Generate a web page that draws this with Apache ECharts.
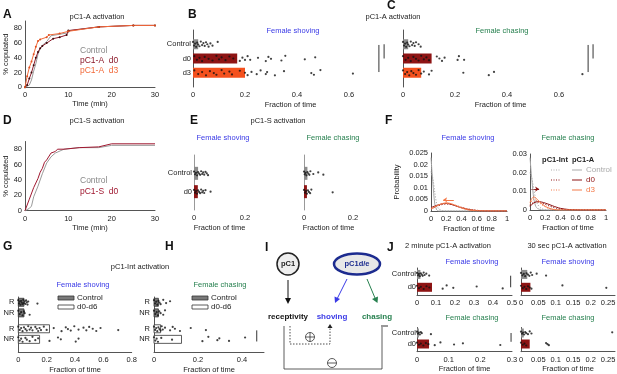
<!DOCTYPE html>
<html>
<head>
<meta charset="utf-8">
<script src="https://cdn.jsdelivr.net/npm/echarts@6/dist/echarts.min.js"></script>
<style>
  html, body { margin: 0; padding: 0; background: #fff; }
  #chart { width: 617px; height: 374px; }
</style>
</head>
<body>
<div id="chart"></div>
<script>
// ---- A: pC1-A activation, % copulated over time
const aCtrlTime = [0, 1, 1.5, 2, 2.5, 3, 3.5, 4, 5, 6, 8, 10, 10.5, 17, 25, 30];
const aCtrlPct  = [0, 3, 10, 22, 32, 45, 52, 57, 62, 70, 72, 74, 77, 82, 84, 84];
const aD0Time = [0, 0.5, 1, 1.5, 2, 2.5, 3, 3.5, 4, 5, 6.5, 8, 9.6, 10, 17, 25, 30];
const aD0Pct  = [0, 3, 12, 20, 30, 40, 48, 53, 56, 60, 66, 68, 71, 77, 82, 84, 84];
const aD3Time = [0, 0.5, 1, 1.5, 2, 2.5, 3, 3.5, 5, 5.5, 8, 10, 17, 25, 30];
const aD3Pct  = [0, 15, 27, 35, 45, 55, 63, 65, 68, 71, 73, 76, 82, 84, 84];

// ---- D: pC1-S activation
const dCtrlTime = [0, 1, 1.5, 2, 3, 4, 5, 6, 7, 9, 12.5, 17, 20, 30];
const dCtrlPct  = [0, 3, 6, 18, 32, 48, 62, 70, 75, 80, 82, 82, 85, 85];
const dD0Time = [0, 1, 2, 3, 3.5, 4, 4.5, 5, 6, 7, 7.5, 9, 12.5, 17, 20, 30];
const dD0Pct  = [0, 15, 30, 42, 50, 55, 63, 66, 75, 77, 80, 80, 82, 83, 87, 87];

// ---- B / C: pC1-A activation, fraction of time
const pc1aRows = ['Control', 'd0', 'd3'];
const bShoveMeans = [0.02, 0.17, 0.2];
const bShoveCtrl = [0, 0.004, 0.008, 0.012, 0.016, 0.02, 0.025, 0.03, 0.035, 0.04, 0.045, 0.05, 0.055, 0.06, 0.067, 0.075, 0.095];
const bShoveD0 = [0.005, 0.015, 0.025, 0.035, 0.045, 0.06, 0.075, 0.09, 0.1, 0.11, 0.125, 0.14, 0.155, 0.18, 0.19, 0.2, 0.21, 0.22, 0.25, 0.28, 0.29, 0.3, 0.34, 0.355, 0.43, 0.47];
const bShoveD3 = [0.005, 0.02, 0.035, 0.05, 0.065, 0.08, 0.09, 0.11, 0.12, 0.14, 0.15, 0.18, 0.2, 0.21, 0.225, 0.245, 0.26, 0.28, 0.285, 0.315, 0.35, 0.455, 0.465, 0.49, 0.615];
const cChaseMeans = [0.02, 0.11, 0.07];
const cChaseCtrl = [0, 0.004, 0.008, 0.012, 0.016, 0.02, 0.025, 0.03, 0.035, 0.04, 0.045, 0.05, 0.06, 0.068];
const cChaseD0 = [0, 0.01, 0.02, 0.03, 0.04, 0.05, 0.06, 0.07, 0.08, 0.09, 0.1, 0.13, 0.14, 0.15, 0.16, 0.21, 0.215, 0.235];
const cChaseD3 = [0, 0.008, 0.016, 0.024, 0.032, 0.04, 0.05, 0.06, 0.07, 0.08, 0.1, 0.11, 0.232, 0.33, 0.35, 0.69];

// ---- E: pC1-S activation
const pc1sRows = ['Control', 'd0'];
const eShoveMeans = [0.016, 0.015];
const eShoveCtrl = [0, 0.004, 0.008, 0.012, 0.016, 0.02, 0.024, 0.028, 0.032, 0.036, 0.04, 0.045, 0.05, 0.055];
const eShoveD0 = [0, 0.004, 0.008, 0.012, 0.016, 0.02, 0.024, 0.028, 0.032, 0.036, 0.04, 0.045, 0.065];
const eChaseMeans = [0.014, 0.012];
const eChaseCtrl = [0, 0.003, 0.006, 0.01, 0.014, 0.018, 0.022, 0.026, 0.038, 0.058, 0.079];
const eChaseD0 = [0, 0.004, 0.008, 0.012, 0.016, 0.02, 0.025, 0.03, 0.117];

// ---- F: probability distributions
const fFrac = [0, 0.025, 0.05, 0.075, 0.1, 0.15, 0.2, 0.25, 0.3, 0.35, 0.4, 0.5, 0.6, 0.7, 0.8, 1];
const fShoveCtrlA   = [0.023, 0.012, 0.003, 0.0005, 0, 0, 0, 0, 0, 0, 0, 0, 0, 0, 0, 0];
const fShoveCtrlInt = [0.017, 0.014, 0.008, 0.003, 0.001, 0.0002, 0, 0, 0, 0, 0, 0, 0, 0, 0, 0];
const fShoveD0A     = [0.0015, 0.0018, 0.0021, 0.0024, 0.0027, 0.0031, 0.0033, 0.003, 0.0025, 0.0019, 0.0014, 0.0006, 0.0002, 0, 0, 0];
const fShoveD0Int   = [0.001, 0.0013, 0.0016, 0.002, 0.0023, 0.0028, 0.003, 0.0029, 0.0026, 0.0021, 0.0016, 0.0008, 0.0003, 0.0001, 0, 0];
const fShoveD3A     = [0.0008, 0.0012, 0.0017, 0.0022, 0.0026, 0.0032, 0.0035, 0.0033, 0.0027, 0.002, 0.0013, 0.0004, 0.0001, 0, 0, 0];
const fShoveD3Int   = [0.0012, 0.0015, 0.0019, 0.0023, 0.0027, 0.0031, 0.0033, 0.0031, 0.0027, 0.0022, 0.0016, 0.0008, 0.0003, 0.0001, 0, 0];
const fChaseCtrlA   = [0.028, 0.016, 0.006, 0.002, 0.0008, 0.0001, 0, 0, 0, 0, 0, 0, 0, 0, 0, 0];
const fChaseCtrlInt = [0.02, 0.017, 0.011, 0.006, 0.003, 0.0008, 0.0002, 0, 0, 0, 0, 0, 0, 0, 0, 0];
const fChaseD0A     = [0.002, 0.003, 0.0038, 0.0043, 0.0045, 0.0043, 0.0037, 0.003, 0.0022, 0.0015, 0.0009, 0.0003, 0.0001, 0, 0, 0];
const fChaseD0Int   = [0.0025, 0.0035, 0.004, 0.0042, 0.0042, 0.0038, 0.003, 0.0022, 0.0015, 0.0009, 0.0005, 0.0001, 0, 0, 0, 0];
const fChaseD3A     = [0.004, 0.0062, 0.007, 0.0065, 0.0055, 0.0035, 0.002, 0.001, 0.0004, 0.0001, 0, 0, 0, 0, 0, 0];
const fChaseD3Int   = [0.003, 0.005, 0.0058, 0.0055, 0.0047, 0.003, 0.0017, 0.0008, 0.0003, 0, 0, 0, 0, 0, 0, 0];

// ---- G / H: pC1-Int activation (R = receptive, NR = non-receptive)
const intRowLabels = ['R', 'NR', 'R', 'NR'];
const intRowPos = [0, 1, 2.5, 3.5];
const gShoveMeans = [0.04, 0.04, 0.22, 0.15];
const gRCtrl = [0, 0.005, 0.01, 0.015, 0.02, 0.025, 0.03, 0.035, 0.04, 0.045, 0.05, 0.055, 0.06, 0.065, 0.07, 0.135];
const gNRCtrl = [0, 0.01, 0.02, 0.03, 0.04, 0.045, 0.08];
const gRD0 = [0, 0.01, 0.02, 0.03, 0.04, 0.05, 0.06, 0.07, 0.08, 0.09, 0.1, 0.12, 0.13, 0.14, 0.15, 0.16, 0.18, 0.2, 0.25, 0.305, 0.335, 0.35, 0.37, 0.395, 0.425, 0.46, 0.48, 0.5, 0.525, 0.55, 0.58, 0.705];
const gNRD0 = [0, 0.01, 0.02, 0.03, 0.05, 0.06, 0.08, 0.1, 0.12, 0.14, 0.22, 0.28, 0.3, 0.405, 0.425];
const hChaseMeans = [0.02, 0.02, 0.03, 0.125];
const hRCtrl = [0, 0.005, 0.01, 0.015, 0.02, 0.025, 0.03, 0.042, 0.055, 0.073];
const hNRCtrl = [0, 0.006, 0.012, 0.018, 0.024, 0.03, 0.042, 0.05];
const hRD0 = [0, 0.005, 0.01, 0.015, 0.02, 0.025, 0.03, 0.035, 0.04, 0.05, 0.073, 0.085, 0.095, 0.118, 0.167, 0.236];
const hNRD0 = [0, 0.006, 0.012, 0.018, 0.033, 0.082, 0.22, 0.247, 0.288, 0.297, 0.341, 0.414];

// ---- J: short pC1-A activation
const jShove2Means = [0.018, 0.079];
const jShove2Ctrl = [0, 0.005, 0.01, 0.015, 0.02, 0.025, 0.03, 0.035, 0.04, 0.049, 0.064];
const jShove2D0 = [0, 0.01, 0.02, 0.035, 0.05, 0.065, 0.135, 0.156, 0.191, 0.314, 0.451];
const jShove30Means = [0.018, 0.027];
const jShove30Ctrl = [0, 0.004, 0.008, 0.012, 0.016, 0.02, 0.024, 0.028, 0.032, 0.045, 0.072];
const jShove30D0 = [0, 0.005, 0.01, 0.015, 0.02, 0.025, 0.03, 0.119, 0.245];
const jChase2Means = [0.006, 0.038];
const jChase2Ctrl = [0, 0.003, 0.006, 0.009, 0.012, 0.015, 0.044];
const jChase2D0 = [0, 0.006, 0.012, 0.02, 0.028, 0.036, 0.056, 0.074, 0.117, 0.145, 0.263];
const jChase30Means = [0.008, 0.025];
const jChase30Ctrl = [0, 0.003, 0.006, 0.009, 0.012, 0.015, 0.02, 0.025, 0.03, 0.262];
const jChase30D0 = [0, 0.005, 0.01, 0.015, 0.072, 0.076, 0.08];

// small fixed vertical scatter for dots (fraction of row height)
const jitter = [-0.8, 0.45, -0.25, 0.9, -0.55, 0.1, 0.7, -0.95, 0.3, -0.4, 0.6, -0.7, 0.0, 0.85, -0.3, 0.5];

const font = '"Liberation Sans", Arial, sans-serif';
const col = {
  gray: '#8c8c8c', red: '#8e1414', orange: '#f4511e',
  lineRed: '#8c1a2a', lineOrange: '#f26a3a', lineGray: '#9a9a9a',
  blue: '#3a3ae6', green: '#27804f', axis: '#555', text: '#222'
};

const grids = [], xAxes = [], yAxes = [], series = [], graphic = [];

function axisOpt(o) {
  return {
    type: 'value', min: o.min, max: o.max, interval: o.interval, inverse: !!o.inverse,
    name: o.name || '', nameLocation: 'middle', nameGap: o.nameGap || 12,
    nameTextStyle: { color: col.text, fontSize: 7.5, fontFamily: font },
    axisLine: { show: o.line !== false, onZero: false, lineStyle: { color: o.lineColor || col.axis, width: 1 } },
    axisTick: { show: false },
    splitLine: { show: false },
    axisLabel: {
      show: o.labels !== false, color: col.text, fontSize: 7.5, fontFamily: font,
      margin: o.margin == null ? 3 : o.margin, formatter: o.formatter,
      showMaxLabel: o.showMax, showMinLabel: o.showMin
    }
  };
}

function addGrid(box, x, y) {
  const gi = grids.length;
  grids.push(Object.assign({ containLabel: false, outerBoundsMode: 'none' }, box));
  xAxes.push(Object.assign(axisOpt(x), { gridIndex: gi, position: 'bottom' }));
  yAxes.push(Object.assign(axisOpt(y), { gridIndex: gi, position: 'left' }));
  return gi;
}

function rowFormatter(pos, labels) {
  return v => {
    const i = pos.findIndex(p => Math.abs(p - v) < 1e-6);
    return i >= 0 ? labels[i] : '';
  };
}

function addBars(gi, rows, means, fills, strokes, barH) {
  series.push({
    type: 'custom', xAxisIndex: gi, yAxisIndex: gi, silent: true, z: 1,
    encode: { x: 0, y: 1 },
    renderItem: (params, api) => {
      const p0 = api.coord([0, api.value(1)]);
      const p1 = api.coord([api.value(0), api.value(1)]);
      return {
        type: 'rect',
        shape: { x: p0[0], y: p0[1] - barH / 2, width: p1[0] - p0[0], height: barH },
        style: api.style()
      };
    },
    data: means.map((v, i) => ({
      value: [v, rows[i]],
      itemStyle: {
        color: fills[i],
        borderColor: strokes ? strokes[i] : fills[i],
        borderWidth: strokes ? 0.8 : 0
      }
    }))
  });
}

function addDots(gi, groups, amp) {
  const data = [];
  groups.forEach(([row, vals]) => vals.forEach((v, i) => data.push([v, row + amp * jitter[i % jitter.length]])));
  series.push({
    type: 'scatter', xAxisIndex: gi, yAxisIndex: gi, silent: true, z: 3,
    symbolSize: 2.2, itemStyle: { color: '#111' }, data
  });
}

function addSig(gi, lines) {
  lines.forEach(([x, r0, r1]) => series.push({
    type: 'line', xAxisIndex: gi, yAxisIndex: gi, silent: true, symbol: 'none',
    lineStyle: { color: '#333', width: 1 }, data: [[x, r0], [x, r1]]
  }));
}

function addCurve(gi, xs, ys, color, dots) {
  series.push({
    type: 'line', xAxisIndex: gi, yAxisIndex: gi, silent: true,
    symbol: dots ? 'circle' : 'none', symbolSize: 2,
    itemStyle: { color: dots || color },
    lineStyle: { color, width: 1 },
    data: xs.map((x, i) => [x, ys[i]])
  });
}

function addDensity(gi, ys, color, dotted) {
  series.push({
    type: 'line', xAxisIndex: gi, yAxisIndex: gi, silent: true, smooth: 0.3, symbol: 'none',
    lineStyle: { color, width: 1, type: dotted ? [1.2, 1.6] : 'solid' },
    data: fFrac.map((x, i) => [x, ys[i]])
  });
}

function addArrow(gi, from, to, color) {
  series.push({
    type: 'lines', coordinateSystem: 'cartesian2d', xAxisIndex: gi, yAxisIndex: gi, silent: true,
    symbol: ['none', 'arrow'], symbolSize: 4,
    lineStyle: { color, width: 1, opacity: 1 },
    data: [{ coords: [from, to] }]
  });
}

function txt(x, y, s, o) {
  graphic.push({
    type: 'text', x, y, silent: true, z: 50,
    style: Object.assign({
      text: s, fill: col.text, font: '7.5px ' + font, align: 'center', verticalAlign: 'middle'
    }, o || {})
  });
}
function letter(x, y, s) { txt(x, y, s, { font: 'bold 12px ' + font, fill: '#111', align: 'left' }); }
function line(x1, y1, x2, y2, stroke, w, dash) {
  graphic.push({ type: 'line', silent: true, shape: { x1, y1, x2, y2 }, style: { stroke, lineWidth: w || 1, lineDash: dash || null } });
}
function poly(points, fill) {
  graphic.push({ type: 'polygon', silent: true, shape: { points }, style: { fill } });
}

// ---------------- A
const gA = addGrid({ left: 25, top: 21, width: 130, height: 66.3 },
  { min: 0, max: 30, interval: 10, name: 'Time (min)', nameGap: 13, margin: 4 },
  { min: 0, max: 90, interval: 20, name: '% copulated', nameGap: 14, showMax: false });
addCurve(gA, aCtrlTime, aCtrlPct, col.lineGray);
addCurve(gA, aD0Time, aD0Pct, col.lineRed, '#3a0a0a');
addCurve(gA, aD3Time, aD3Pct, col.lineOrange, '#e05020');

// ---------------- D
const gD = addGrid({ left: 25, top: 141.5, width: 130, height: 69.2 },
  { min: 0, max: 30, interval: 10, name: 'Time (min)', nameGap: 13, margin: 4 },
  { min: 0, max: 90, interval: 20, name: '% copulated', nameGap: 14, showMax: false });
addCurve(gD, dCtrlTime, dCtrlPct, col.lineGray);
addCurve(gD, dD0Time, dD0Pct, '#a01830');

// ---------------- B / C
const threeFills = [col.gray, col.red, col.orange];
const bcRowPos = [0, 1, 2];
const gB = addGrid({ left: 193, top: 30, width: 195, height: 57 },
  { min: 0, max: 0.75, interval: 0.2, line: false, showMax: false, margin: 4, name: 'Fraction of time', nameGap: 14 },
  { min: -1, max: 3, interval: 1, inverse: true, margin: 2, formatter: rowFormatter(bcRowPos, pc1aRows) });
addBars(gB, bcRowPos, bShoveMeans, threeFills, null, 10);
addDots(gB, [[0, bShoveCtrl], [1, bShoveD0], [2, bShoveD3]], 0.2);
addSig(gB, [[0.715, 0.05, 1.95], [0.735, 0, 1]]);

const gC = addGrid({ left: 403, top: 30, width: 195, height: 57 },
  { min: 0, max: 0.75, interval: 0.2, line: false, showMax: false, margin: 4, name: 'Fraction of time', nameGap: 14 },
  { min: -1, max: 3, interval: 1, inverse: true, labels: false });
addBars(gC, bcRowPos, cChaseMeans, threeFills, null, 10);
addDots(gC, [[0, cChaseCtrl], [1, cChaseD0], [2, cChaseD3]], 0.2);
addSig(gC, [[0.712, 0.05, 1.95], [0.731, 0, 1]]);

// ---------------- E
const eRowPos = [0, 1];
const twoFills = [col.gray, col.red];
const gE1 = addGrid({ left: 194, top: 155, width: 51, height: 55 },
  { min: 0, max: 0.2, interval: 0.2, line: false, margin: 4, name: 'Fraction of time', nameGap: 14 },
  { min: -1, max: 2, interval: 1, inverse: true, margin: 2, lineColor: '#999', formatter: rowFormatter(eRowPos, pc1sRows) });
addBars(gE1, eRowPos, eShoveMeans, twoFills, null, 13);
addDots(gE1, [[0, eShoveCtrl], [1, eShoveD0]], 0.12);
const gE2 = addGrid({ left: 304, top: 155, width: 49, height: 55 },
  { min: 0, max: 0.2, interval: 0.2, line: false, margin: 4, name: 'Fraction of time', nameGap: 14 },
  { min: -1, max: 2, interval: 1, inverse: true, labels: false, lineColor: '#999' });
addBars(gE2, eRowPos, eChaseMeans, twoFills, null, 13);
addDots(gE2, [[0, eChaseCtrl], [1, eChaseD0]], 0.12);

// ---------------- F
const gF1 = addGrid({ left: 431, top: 153, width: 76, height: 58 },
  { min: 0, max: 1, interval: 0.2, margin: 4, name: 'Fraction of time', nameGap: 14 },
  { min: 0, max: 0.025, interval: 0.005, name: 'Probability', nameGap: 30 });
addDensity(gF1, fShoveCtrlInt, '#aaa', true);
addDensity(gF1, fShoveCtrlA, '#aaa');
addDensity(gF1, fShoveD0Int, col.red, true);
addDensity(gF1, fShoveD0A, col.red);
addDensity(gF1, fShoveD3Int, '#f47a4a', true);
addDensity(gF1, fShoveD3A, '#f47a4a');
addArrow(gF1, [0.3, 0.0048], [0.16, 0.0048], '#f47a4a');

const gF2 = addGrid({ left: 530, top: 154, width: 76, height: 56 },
  { min: 0, max: 1, interval: 0.2, margin: 4, name: 'Fraction of time', nameGap: 14 },
  { min: 0, max: 0.03, interval: 0.01 });
addDensity(gF2, fChaseCtrlInt, '#aaa', true);
addDensity(gF2, fChaseCtrlA, '#aaa');
addDensity(gF2, fChaseD0Int, col.red, true);
addDensity(gF2, fChaseD0A, col.red);
addDensity(gF2, fChaseD3Int, '#f47a4a', true);
addDensity(gF2, fChaseD3A, '#f47a4a');
addArrow(gF2, [0.02, 0.0112], [0.12, 0.0112], col.red);

// ---------------- G / H
const intFills = ['#7a7a7a', '#7a7a7a', '#ffffff', '#ffffff'];
const intStrokes = ['#333', '#333', '#333', '#333'];
const gG = addGrid({ left: 18.3, top: 297, width: 113.4, height: 55.6 },
  { min: 0, max: 0.8, interval: 0.2, margin: 3, name: 'Fraction of time', nameGap: 13 },
  { min: -0.5, max: 4.75, interval: 0.5, inverse: true, margin: 4, formatter: rowFormatter(intRowPos, intRowLabels) });
addBars(gG, intRowPos, gShoveMeans, intFills, intStrokes, 8);
addDots(gG, [[0, gRCtrl], [1, gNRCtrl], [2.5, gRD0], [3.5, gNRD0]], 0.25);

const gH = addGrid({ left: 154, top: 297, width: 110, height: 55.6 },
  { min: 0, max: 0.5, interval: 0.2, margin: 3, showMax: false, name: 'Fraction of time', nameGap: 13 },
  { min: -0.5, max: 4.75, interval: 0.5, inverse: true, margin: 4, formatter: rowFormatter(intRowPos, intRowLabels) });
addBars(gH, intRowPos, hChaseMeans, intFills, intStrokes, 8);
addDots(gH, [[0, hRCtrl], [1, hNRCtrl], [2.5, hRD0], [3.5, hNRD0]], 0.25);
addSig(gH, [[0.467, 2.65, 3.7]]);

// ---------------- J
const jFmt = rowFormatter(eRowPos, pc1sRows);
const gJ1 = addGrid({ left: 417, top: 268, width: 95, height: 27 },
  { min: 0, max: 0.5, interval: 0.1, margin: 4 },
  { min: -0.5, max: 1.6, interval: 0.5, inverse: true, margin: 1, formatter: jFmt });
addBars(gJ1, eRowPos, jShove2Means, twoFills, null, 9);
addDots(gJ1, [[0, jShove2Ctrl], [1, jShove2D0]], 0.15);
addSig(gJ1, [[0.493, 0.1, 1]]);

const gJ2 = addGrid({ left: 521, top: 268, width: 94, height: 27 },
  { min: 0, max: 0.27, interval: 0.05, margin: 4, showMax: false },
  { min: -0.5, max: 1.6, interval: 0.5, inverse: true, labels: false });
addBars(gJ2, eRowPos, jShove30Means, twoFills, null, 9);
addDots(gJ2, [[0, jShove30Ctrl], [1, jShove30D0]], 0.15);

const gJ3 = addGrid({ left: 417, top: 327.5, width: 95, height: 24.2 },
  { min: 0, max: 0.3, interval: 0.1, margin: 4, name: 'Fraction of time', nameGap: 13 },
  { min: -0.5, max: 1.7, interval: 0.5, inverse: true, margin: 1, formatter: jFmt });
addBars(gJ3, eRowPos, jChase2Means, twoFills, null, 9);
addDots(gJ3, [[0, jChase2Ctrl], [1, jChase2D0]], 0.15);
addSig(gJ3, [[0.297, 0, 0.8]]);

const gJ4 = addGrid({ left: 521, top: 327.5, width: 94, height: 24.2 },
  { min: 0, max: 0.27, interval: 0.05, margin: 4, showMax: false, name: 'Fraction of time', nameGap: 13 },
  { min: -0.5, max: 1.7, interval: 0.5, inverse: true, labels: false });
addBars(gJ4, eRowPos, jChase30Means, twoFills, null, 9);
addDots(gJ4, [[0, jChase30Ctrl], [1, jChase30D0]], 0.15);

// ---------------- texts
letter(3, 15, 'A'); letter(188, 15, 'B'); letter(387, 6, 'C');
letter(3, 121, 'D'); letter(190, 121, 'E'); letter(385, 121, 'F');
letter(3, 247, 'G'); letter(165, 247, 'H'); letter(265, 248, 'I'); letter(387, 248, 'J');

txt(97, 17, 'pC1-A activation');
txt(393, 17, 'pC1-A activation');
txt(293, 31, 'Female shoving', { fill: col.blue });
txt(502, 31, 'Female chasing', { fill: col.green });
txt(97, 121, 'pC1-S activation');
txt(278, 121, 'pC1-S activation');
txt(223, 138, 'Female shoving', { fill: col.blue });
txt(333, 138, 'Female chasing', { fill: col.green });
txt(468, 138, 'Female shoving', { fill: col.blue });
txt(568, 138, 'Female chasing', { fill: col.green });
txt(140, 267, 'pC1-Int activation');
txt(83, 285, 'Female shoving', { fill: col.blue });
txt(220, 285, 'Female chasing', { fill: col.green });
txt(448, 246, '2 minute pC1-A activation');
txt(567, 246, '30 sec pC1-A activation');
txt(472, 262, 'Female shoving', { fill: col.blue });
txt(568, 262, 'Female shoving', { fill: col.blue });
txt(472, 318, 'Female chasing', { fill: col.green });
txt(568, 318, 'Female chasing', { fill: col.green });

// A / D legends
const big = '8.5px ' + font;
txt(80, 51, 'Control', { align: 'left', fill: '#888', font: big });
txt(80, 61, 'pC1-A  d0', { align: 'left', fill: col.lineRed, font: big });
txt(80, 71, 'pC1-A  d3', { align: 'left', fill: col.lineOrange, font: big });
txt(80, 181, 'Control', { align: 'left', fill: '#888', font: big });
txt(80, 192, 'pC1-S  d0', { align: 'left', fill: '#a01830', font: big });

// G / H legends
[58, 192].forEach(x => {
  graphic.push({ type: 'rect', silent: true, shape: { x, y: 296, width: 16, height: 4 }, style: { fill: '#7a7a7a', stroke: '#333', lineWidth: 0.8 } });
  graphic.push({ type: 'rect', silent: true, shape: { x, y: 305, width: 16, height: 4 }, style: { fill: '#fff', stroke: '#333', lineWidth: 0.8 } });
  txt(x + 19, 298, 'Control', { align: 'left', font: '8px ' + font });
  txt(x + 19, 307, 'd0-d6', { align: 'left', font: '8px ' + font });
});

// F legend
txt(555, 160, 'pC1-Int', { font: 'bold 7.5px ' + font });
txt(583, 160, 'pC1-A', { font: 'bold 7.5px ' + font });
[['Control', '#aaa', 170], ['d0', col.red, 180], ['d3', '#f47a4a', 190]].forEach(([s, c, y]) => {
  line(551, y, 561, y, c, 1, [1, 1.5]);
  line(572, y, 582, y, c, 1);
  txt(586, y, s, { align: 'left', fill: c, font: '8px ' + font });
});

// ---------------- I: diagram
graphic.push({ type: 'circle', silent: true, shape: { cx: 288, cy: 264, r: 11 }, style: { fill: '#eee', stroke: '#222', lineWidth: 1.5 } });
txt(288, 264, 'pC1', { font: 'bold 7.5px ' + font });
graphic.push({ type: 'ellipse', silent: true, shape: { cx: 357, cy: 264, rx: 23, ry: 10.5 }, style: { fill: '#e8e8e8', stroke: '#1c2b8f', lineWidth: 2.5 } });
txt(357, 264, 'pC1d/e', { font: 'bold 7.5px ' + font, fill: '#1c2b8f' });
line(288, 280, 288, 299, '#111', 1);
poly([[285, 298], [291, 298], [288, 304]], '#111');
line(347, 279, 337.5, 298, col.blue, 1);
poly([[334.5, 296.5], [340, 299], [335, 303]], col.blue);
line(367, 279, 375, 298, col.green, 1);
poly([[372, 299], [378, 296.5], [377.5, 303]], col.green);
txt(288, 317, 'receptivity', { font: 'bold 8px ' + font, fill: '#111' });
txt(332, 317, 'shoving', { font: 'bold 8px ' + font, fill: col.blue });
txt(377, 317, 'chasing', { font: 'bold 8px ' + font, fill: col.green });
graphic.push({ type: 'polyline', silent: true, shape: { points: [[290, 326], [290, 344], [330, 344], [330, 327]] }, style: { stroke: '#222', lineWidth: 0.8, fill: null, lineDash: [1.5, 1.5] } });
poly([[327.5, 328], [332.5, 328], [330, 324]], '#222');
graphic.push({ type: 'polyline', silent: true, shape: { points: [[284, 326], [284, 369], [382, 369], [382, 327]] }, style: { stroke: '#333', lineWidth: 0.8, fill: null } });
line(381, 326, 388, 326, '#333', 1);
// plus / minus signs
graphic.push({ type: 'circle', silent: true, shape: { cx: 310, cy: 337, r: 4.5 }, style: { fill: null, stroke: '#333', lineWidth: 0.8 } });
line(305.5, 337, 314.5, 337, '#333', 0.8); line(310, 332.5, 310, 341.5, '#333', 0.8);
graphic.push({ type: 'circle', silent: true, shape: { cx: 332, cy: 363, r: 4.5 }, style: { fill: null, stroke: '#333', lineWidth: 0.8 } });
line(327.5, 363, 336.5, 363, '#333', 0.8);

const chart = echarts.init(document.getElementById('chart'), null, { renderer: 'canvas' });
chart.setOption({
  animation: false,
  textStyle: { fontFamily: font },
  grid: grids,
  xAxis: xAxes,
  yAxis: yAxes,
  series: series,
  graphic: graphic
});
</script>
</body>
</html>
